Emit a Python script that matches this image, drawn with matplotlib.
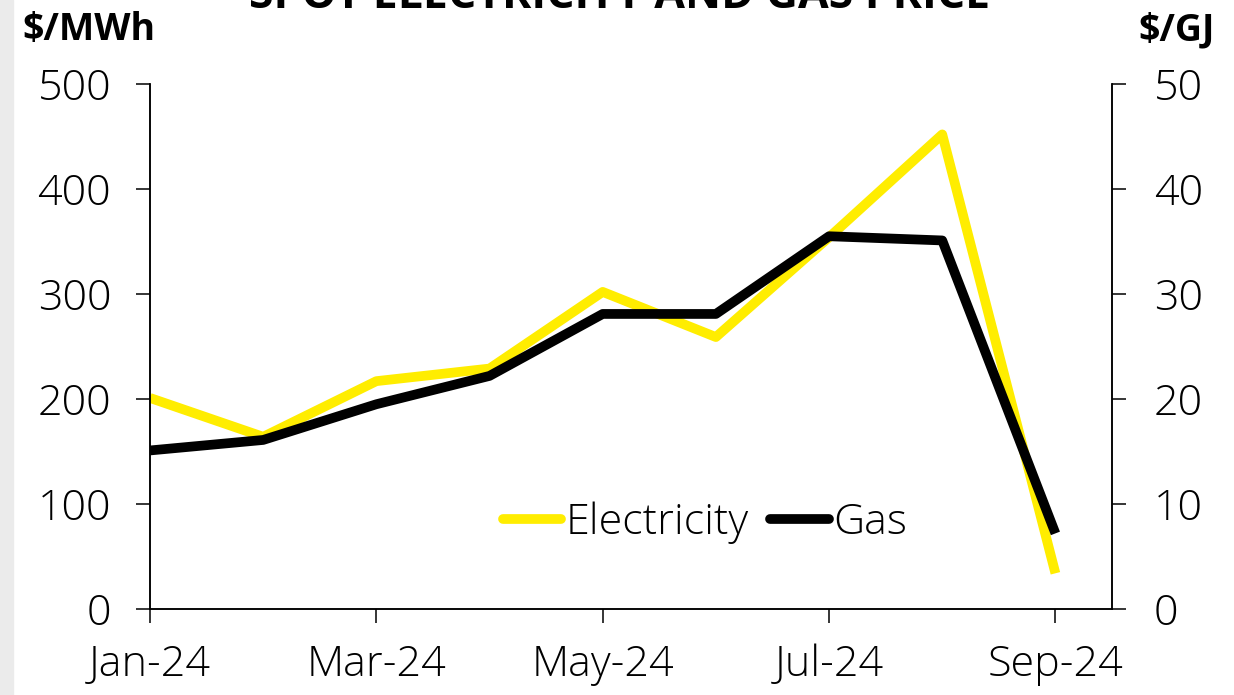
import matplotlib
matplotlib.use("Agg")
from matplotlib import pyplot as plt
from matplotlib.patches import Rectangle

months = ["Jan-24", "Feb-24", "Mar-24", "Apr-24", "May-24", "Jun-24", "Jul-24", "Aug-24", "Sep-24"]
electricity = [201, 164, 217, 229, 302, 259, 354, 452, 34]   # $/MWh
gas = [15.1, 16.1, 19.5, 22.2, 28.1, 28.1, 35.5, 35.1, 7.2]  # $/GJ
left_ticks = [0, 100, 200, 300, 400, 500]
right_ticks = [0, 10, 20, 30, 40, 50]

plt.rcParams['font.family'] = ['Open Sans', 'DejaVu Sans']

YELLOW = "#FFED00"
FS = 31

fig = plt.figure(figsize=(12.34, 6.95), dpi=100)
fig.patches.append(Rectangle((0, 0), 13 / 1234, 1, transform=fig.transFigure,
                             color="#ebebeb", zorder=0))
ax = fig.add_axes([150 / 1234, 1 - 609 / 695, 962 / 1234, 525 / 695])
ax2 = ax.twinx()

x = list(range(len(months)))
l1, = ax.plot(x, electricity, color=YELLOW, lw=7, solid_capstyle="butt",
              solid_joinstyle="round", label="Electricity")
l2, = ax2.plot(x, gas, color="black", lw=7, solid_capstyle="butt",
               solid_joinstyle="round", label="Gas")

ax.set_xlim(0, 8.5)
ax.set_ylim(0, 500)
ax2.set_ylim(0, 50)
ax.set_xticks(x[::2])
ax.set_xticklabels(months[::2])
ax.set_yticks(left_ticks)
ax2.set_yticks(right_ticks)

for a in (ax, ax2):
    a.spines["top"].set_visible(False)
    for s in a.spines.values():
        s.set_linewidth(1.1)
ax.tick_params(axis="y", direction="out", length=10, width=1.1,
               labelsize=FS, pad=18)
ax.tick_params(axis="x", direction="out", length=10, width=1.1,
               labelsize=FS, pad=15)
ax2.tick_params(axis="y", direction="out", length=10, width=1.1,
                labelsize=FS, pad=20)
for lab in ax.get_xticklabels() + ax.get_yticklabels() + ax2.get_yticklabels():
    lab.set_fontweight("light")

fig.text(22 / 1234, 1 - 30 / 695, "$/MWh", fontsize=27, fontweight="bold",
         ha="left", va="center")
fig.text(1215 / 1234, 1 - 30 / 695, "$/GJ", fontsize=27, fontweight="bold",
         ha="right", va="center")
fig.text(620 / 1234, 1 - (-4) / 695, "SPOT ELECTRICITY AND GAS PRICE",
         fontsize=32, fontweight="bold", ha="center", va="center")

leg = ax2.legend(handles=[l1, l2], loc="center", bbox_to_anchor=(705 / 1234, 1 - 523 / 695),
                 bbox_transform=fig.transFigure, ncol=2, frameon=False,
                 fontsize=FS, handlelength=1.35, handletextpad=0.1,
                 columnspacing=0.5)
for h in leg.legend_handles:
    h.set_solid_capstyle("round")
for t in leg.get_texts():
    t.set_fontweight("light")

fig.savefig("out.png", dpi=100)
